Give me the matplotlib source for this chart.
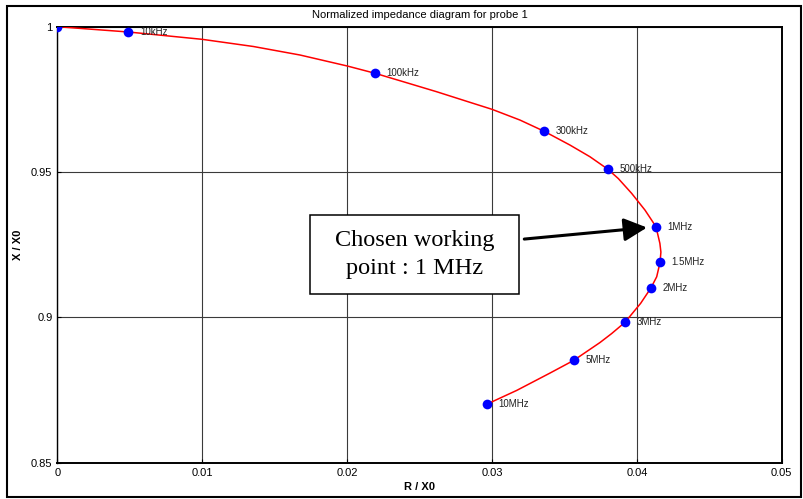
import matplotlib
matplotlib.use("Agg")
import matplotlib.pyplot as plt
from matplotlib.patches import Rectangle

plt.rcParams['font.family'] = ['Liberation Sans', 'DejaVu Sans']

# Measured frequency points (normalized resistance / reactance)
freq_labels = ['', '10kHz', '100kHz', '300kHz', '500kHz', '1MHz',
               '1.5MHz', '2MHz', '3MHz', '5MHz', '10MHz']
point_r = [0.0, 0.0049, 0.02191, 0.03361, 0.03799, 0.04132,
           0.04160, 0.04097, 0.03918, 0.03564, 0.02963]
point_x = [1.0, 0.99818, 0.98400, 0.96400, 0.95100, 0.93120,
           0.91890, 0.91010, 0.89830, 0.88520, 0.87010]

# Impedance locus traced along the frequency sweep
curve_r = [0.0, 0.00490, 0.00999, 0.01353, 0.01675, 0.02001, 0.02191,
           0.02388, 0.02618, 0.02848, 0.03000, 0.03193, 0.03361, 0.03538,
           0.03676, 0.03799, 0.03872, 0.03964, 0.04056, 0.04132, 0.04159,
           0.04166, 0.04160, 0.04137, 0.04097, 0.04026, 0.03918, 0.03826,
           0.03745, 0.03564, 0.03400, 0.03171, 0.02963]
curve_x = [1.0, 0.99818, 0.99566, 0.99319, 0.99026, 0.98648, 0.98400,
           0.98107, 0.97763, 0.97398, 0.97158, 0.96789, 0.96400, 0.95929,
           0.95527, 0.95100, 0.94776, 0.94267, 0.93692, 0.93120, 0.92546,
           0.92247, 0.91890, 0.91397, 0.91010, 0.90482, 0.89830, 0.89443,
           0.89133, 0.88520, 0.88083, 0.87488, 0.87010]

x_ticks = [0, 0.01, 0.02, 0.03, 0.04, 0.05]
x_tick_labels = ['0', '0.01', '0.02', '0.03', '0.04', '0.05']
y_ticks = [0.85, 0.9, 0.95, 1.0]
y_tick_labels = ['0.85', '0.9', '0.95', '1']

working_point = 5  # index of the 1 MHz point

fig = plt.figure(figsize=(8.04, 4.99), dpi=100)
ax = fig.add_axes([0.0713, 0.0727, 0.9010, 0.8738])

ax.plot(curve_r, curve_x, color='#ff0000', lw=1.1, zorder=3,
        solid_joinstyle='round')
ax.plot(point_r, point_x, 'o', color='#0000ff', ms=7, mec='none', zorder=4)

for lbl, r, x in zip(freq_labels, point_r, point_x):
    if lbl:
        ax.annotate(lbl, (r, x), xytext=(8.3, 0), textcoords='offset points',
                    ha='left', va='center', fontsize=7, color='#222222', zorder=5)

ax.set_xlim(0, 0.05)
ax.set_ylim(0.85, 1.0)
ax.set_xticks(x_ticks)
ax.set_xticklabels(x_tick_labels)
ax.set_yticks(y_ticks)
ax.set_yticklabels(y_tick_labels)
ax.tick_params(direction='in', length=3, width=0.8, labelsize=8,
               colors='black', pad=3.5)
ax.grid(True, color='#3a3a3a', lw=0.8)
ax.set_axisbelow(True)
for side in ['top', 'bottom', 'right']:
    ax.spines[side].set_linewidth(1.4)
ax.spines['left'].set_linewidth(1.0)

ax.set_title('Normalized impedance diagram for probe 1', fontsize=8, pad=6)
ax.set_xlabel('R / X0', fontsize=8, fontweight='bold', labelpad=3)
ax.set_ylabel('X / X0', fontsize=8, fontweight='bold', labelpad=6)

# Call-out box and arrow pointing at the working frequency
box_l, box_b, box_w, box_h = 310 / 804, 1 - 294.3 / 499, 209.3 / 804, 79.3 / 499
fig.patches.append(Rectangle((box_l, box_b), box_w, box_h, transform=fig.transFigure,
                             facecolor='white', edgecolor='black', lw=1.1, zorder=10))
fig.text(box_l + box_w / 2, box_b + box_h / 2, 'Chosen working\npoint : 1 MHz',
         ha='center', va='center', fontsize=17.5, family=['Liberation Serif'],
         linespacing=1.45, zorder=11)

ax.annotate('', xy=(point_r[working_point], point_x[working_point]),
            xytext=(0.03223, 0.92694), textcoords='data',
            arrowprops=dict(arrowstyle='-|>,head_length=0.7,head_width=0.35',
                            mutation_scale=20, lw=2.2, color='black',
                            shrinkA=0, shrinkB=6.5),
            zorder=6)

# Outer frame around the whole figure
fig.patches.append(Rectangle((7 / 804, 1 - 497 / 499), 794 / 804, 491.3 / 499,
                             transform=fig.transFigure, facecolor='none',
                             edgecolor='black', lw=1.5))

fig.savefig('out.png', dpi=100)
